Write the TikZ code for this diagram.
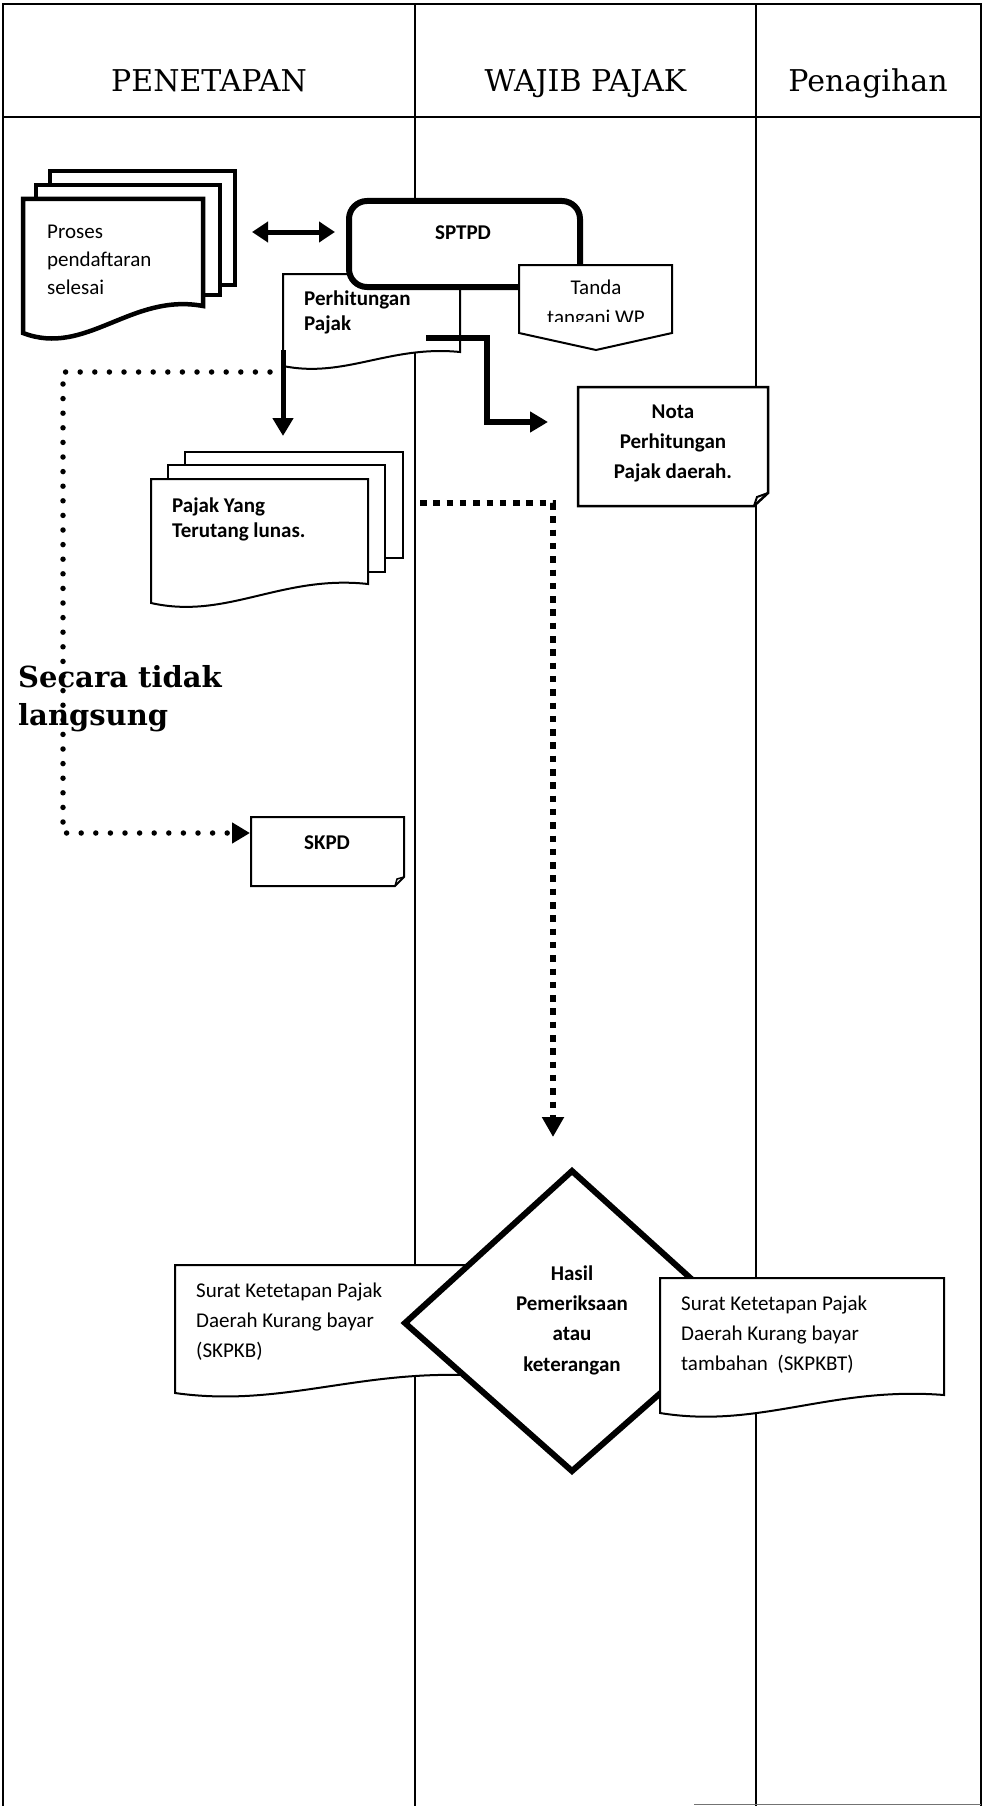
\documentclass[tikz,border=0pt]{standalone}
\usepackage{fontspec}
\setmainfont{Carlito}
\newfontfamily\slabfont{DejaVu Serif}
\usetikzlibrary{arrows.meta}

% document shape with a wavy lower edge: [style]{left}{top}{right}{bottom-left y}{bottom-right y}
\newcommand\docshape[6][]{%
  \pgfmathsetmacro\dsw{#4-#2}\pgfmathsetmacro\dsd{#5-#6}%
  \pgfmathsetmacro\dsax{#2+0.35*\dsw}\pgfmathsetmacro\dsay{#5+0.9*\dsd}%
  \pgfmathsetmacro\dsbx{#2+0.6*\dsw}\pgfmathsetmacro\dsby{#6-0.5*\dsd}%
  \draw[#1] (#2,#3) -- (#4,#3) -- (#4,#6)
    .. controls (\dsbx,\dsby) and (\dsax,\dsay) .. (#2,#5) -- cycle;}

\tikzset{
  outerline/.style={line width=1.5pt},
  laneline/.style={line width=1.5pt},
  docline/.style={draw, fill=white, line width=2pt, line join=miter},
  heavydoc/.style={draw, fill=white, line width=4.5pt, line join=miter},
  bodytext/.style={inner sep=0pt, font=\fontsize{21}{28}\selectfont},
  boldtext/.style={inner sep=0pt, font=\fontsize{21}{30}\selectfont\bfseries},
  lanehead/.style={inner sep=0pt, anchor=base, font=\slabfont\fontsize{30}{36}\selectfont},
  solidarrow/.style={line width=5pt, -{Triangle[length=18pt,width=20pt]}},
  dotarrow/.style={line width=5.5pt, line cap=round, dash pattern=on 0pt off 14.6pt,
    -{Triangle[length=18pt,width=20pt]}},
  squarearrow/.style={line width=6.5pt, dash pattern=on 6.5pt off 6.8pt,
    -{Triangle[length=20pt,width=21pt]}},
}

\begin{document}
\begin{tikzpicture}[x=1pt,y=-1pt]
\useasboundingbox (0,0) rectangle (984,1806);

% swimlane frame
\draw[outerline] (3,1806) -- (3,4) -- (981,4) -- (981,1806);
\draw[outerline] (3,117) -- (981,117);
\draw[laneline] (415,4) -- (415,1806);
\draw[laneline] (756,4) -- (756,1806);
\draw[line width=1pt, black!55] (694,1804) -- (981,1804);

% lane titles
\node[lanehead] (hpen) at (209,92) {PENETAPAN};
\node[lanehead] (hwp) at (585.5,92) {WAJIB PAJAK};
\node[lanehead] (htag) at (868,92) {Penagihan};

% registration: stacked documents
\draw[heavydoc] (50,171) rectangle (235,285);
\draw[heavydoc] (36,185) rectangle (220,295);
\docshape[heavydoc]{23}{199}{203}{333}{306}
\node[bodytext, anchor=west, align=left] (proses) at (47,260) {Proses\\pendaftaran\\selesai};

\coordinate (dblL) at (252,232);
\coordinate (dblR) at (335,232);
\draw[line width=5pt, {Triangle[length=16pt,width=20pt]}-{Triangle[length=16pt,width=20pt]}] (dblL) -- (dblR);

% tax calculation document under the SPTPD form
\docshape[docline]{283}{274}{460}{366}{352}
\node[boldtext, anchor=west, align=left, font=\fontsize{21}{25}\selectfont\bfseries] (perh) at (304,312) {Perhitungan\\Pajak};

\draw[line width=6pt, fill=white, rounded corners=18pt] (349,201) rectangle (580,287);
\node[boldtext] (sptpd) at (463,233) {SPTPD};

% signature connector
\draw[docline] (519,265) -- (672,265) -- (672,333) -- (596,350) -- (519,333) -- cycle;
\begin{scope}
  \clip (519,265) rectangle (672,321);
  \node[bodytext, align=center, font=\fontsize{21}{30}\selectfont] (tanda) at (596,304) {Tanda\\tangani WP};
\end{scope}

% calculation note
\draw[docline, line width=2.5pt] (578,387) -- (768,387) -- (768,493) -- (754,506) -- (578,506) -- cycle;
\draw[line width=2pt, line join=miter] (768,493) -- (757,497) -- (754,506);
\node[boldtext, align=center] (nota) at (673,443) {Nota\\Perhitungan\\Pajak daerah.};

\coordinate (perhOut) at (426,338);
\coordinate (notaIn) at (548,422);
\draw[line width=6pt, line join=miter, -{Triangle[length=18pt,width=20pt]}]
  (perhOut) -- (487,338) -- (487,422) -- (notaIn);

% paid tax: stacked documents
\coordinate (perhDown) at (283,350);
\coordinate (pajakTop) at (283,436);
\draw[solidarrow] (perhDown) -- (pajakTop);

\draw[docline] (185,452) rectangle (403,558);
\draw[docline] (168,465) rectangle (385,572);
\docshape[docline]{151}{479}{368}{603}{584}
\node[boldtext, anchor=west, align=left, font=\fontsize{21}{25}\selectfont\bfseries] (pajak) at (172,519) {Pajak Yang\\Terutang lunas.};

% indirect route to SKPD
\node[inner sep=0pt, anchor=west, align=left, font=\slabfont\bfseries\fontsize{29}{38}\selectfont] (secara) at (18,699) {Secara tidak\\langsung};

\coordinate (perhLeft) at (270,372);
\coordinate (skpdIn) at (250,833);
\draw[dotarrow] (perhLeft) -- (63,372) -- (63,833) -- (skpdIn);

\draw[docline] (251,817) -- (404,817) -- (404,877) -- (395,886) -- (251,886) -- cycle;
\draw[line width=1.5pt, line join=miter] (404,877) -- (397,879) -- (395,886);
\node[boldtext] (skpd) at (327,843) {SKPD};

% route to the examination result
\coordinate (pajakRight) at (420,503);
\coordinate (hasilTop) at (553,1137);
\draw[squarearrow] (pajakRight) -- (553,503) -- (hasilTop);

% examination result and the two assessment letters
\docshape[docline]{175}{1265}{485}{1393}{1376}
\node[bodytext, anchor=west, align=left, font=\fontsize{21}{30}\selectfont] (skpkb) at (196,1322) {Surat Ketetapan Pajak\\Daerah Kurang bayar\\(SKPKB)};

\draw[line width=6pt, fill=white, line join=miter] (572,1171) -- (740,1323) -- (572,1471) -- (405,1323) -- cycle;
\node[boldtext, align=center, font=\fontsize{21}{30.3}\selectfont\bfseries] (hasil) at (572,1320) {Hasil\\Pemeriksaan\\atau\\keterangan};

\docshape[docline]{660}{1278}{944}{1413}{1395}
\node[bodytext, anchor=west, align=left, font=\fontsize{21}{30}\selectfont] (skpkbt) at (681,1335) {Surat Ketetapan Pajak\\Daerah Kurang bayar\\tambahan\ \ (SKPKBT)};

\end{tikzpicture}
\end{document}
